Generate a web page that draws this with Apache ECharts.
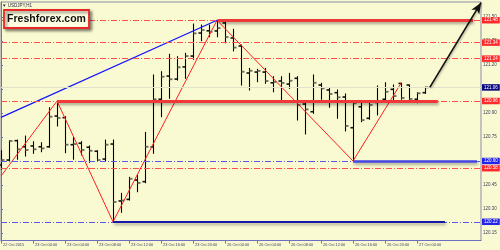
<!DOCTYPE html>
<html><head><meta charset="utf-8">
<script src="https://cdn.jsdelivr.net/npm/echarts@6/dist/echarts.min.js"></script>
<style>html,body{margin:0;padding:0;background:#fafad2}#c{width:500px;height:250px}</style>
</head><body><div id="c"></div>
<script>
// ---- data ----
const tickIdx = [0,4,8,12,16,20,24,28,32,36,40,44,48,52];
const tickLabels = ['22 Oct 2015','23 Oct 00:00','23 Oct 04:00','23 Oct 08:00','23 Oct 12:00','23 Oct 16:00','23 Oct 20:00',
  '26 Oct 00:00','26 Oct 04:00','26 Oct 08:00','26 Oct 12:00','26 Oct 16:00','26 Oct 20:00','27 Oct 00:00'];
const yTicks = [120.15,120.30,120.45,120.60,120.75,120.90,121.05,121.20,121.35,121.50];
const yTickLabels = ['120.15','120.30','120.45','120.60','120.75','120.90','121.05','121.20','121.35','121.50'];

const opens  = [120.575,120.606,120.727,120.689,120.694,120.689,120.689,120.881,120.871,120.702,120.711,120.686,120.661,120.612,
  120.706,120.350,120.360,120.481,120.471,120.688,120.986,121.131,121.112,121.188,121.256,121.400,121.414,121.413,
  121.463,121.369,121.319,121.150,121.156,121.156,121.089,121.100,121.081,121.117,120.956,120.908,121.075,121.044,
  121.027,121.000,120.808,120.939,120.867,120.966,120.986,121.048,121.085,121.075,120.986,121.027];
const highs  = [120.664,120.727,120.731,120.756,120.721,120.714,120.933,120.975,120.877,120.748,120.721,120.694,120.664,120.731,
  120.731,120.398,120.498,120.513,120.779,121.138,121.158,121.267,121.252,121.273,121.456,121.450,121.450,121.480,
  121.477,121.423,121.325,121.179,121.173,121.179,121.127,121.127,121.148,121.127,120.971,121.138,121.086,121.054,
  121.044,121.019,120.964,120.971,120.971,121.069,121.089,121.075,121.086,121.075,121.027,121.062];
const lows   = [120.548,120.596,120.611,120.631,120.648,120.658,120.686,120.819,120.652,120.611,120.638,120.592,120.602,120.600,
  120.220,120.279,120.356,120.408,120.464,120.648,120.877,120.992,121.106,121.117,121.236,121.352,121.377,121.377,
  121.339,121.288,121.075,121.044,121.096,121.086,121.033,120.981,121.054,120.856,120.769,120.898,120.986,120.936,
  120.867,120.788,120.600,120.846,120.861,120.888,120.981,120.981,120.986,120.981,120.964,121.023];
const closes = [120.606,120.725,120.673,120.669,120.673,120.679,120.877,120.869,120.702,120.706,120.669,120.664,120.606,120.702,
  120.344,120.353,120.489,120.463,120.689,120.986,121.127,121.111,121.186,121.256,121.398,121.419,121.408,121.431,
  121.375,121.309,121.158,121.164,121.163,121.100,121.094,121.088,121.102,120.950,120.923,121.089,121.054,121.019,
  120.998,120.819,120.961,120.856,120.950,120.972,121.033,121.006,120.994,120.988,121.023,121.060];

const zigzagIdx = [0,7,14,27,44,50];
const zigzagVal = [120.506,120.975,120.22,121.48,120.60,121.086];
const trendIdx = [0,27];
const trendVal = [120.873,121.48];
const arrowIdx = [53.6,60];
const arrowVal = [121.06,121.59];

const redLevels = [121.48,121.34,121.24,120.975,120.555];
const redLevelText = ['121.48','121.34','121.24','120.96','120.58'];
const blueLevels = [120.60,120.22];
const blueLevelText = ['120.60','120.22'];
const bidLevel = 121.06;
const bidText = '121.06';

const thickRedVal = [121.48,120.975];
const thickRedStart = [27.1,7];
const thickRedEnd = [59,54.6];
const thickBlueVal = [120.60];
const thickBlueStart = [44];
const thickBlueEnd = [59.5];
const thickNavyVal = [120.22];
const thickNavyStart = [14];
const thickNavyEnd = [55.5];

// ---- build ----
const bars = opens.map((o,i)=>[i,o,closes[i],lows[i],highs[i]]);
const X0 = 0, X1 = 60;
const lblBase = {show:true, position:'end', distance:1, color:'#fff', fontSize:4.5, fontFamily:'Liberation Sans',
  padding:[1,2,0,2], lineHeight:5.5};
function levelLines(vals, texts, bg){
  return vals.map((v,i)=>[{coord:[X0,v], label:Object.assign({}, lblBase, {backgroundColor:bg, formatter:texts[i]})},{coord:[X1,v]}]);
}
function segLines(vals, s, e){
  return vals.map((v,i)=>[{coord:[s[i],v]},{coord:[e[i],v]}]);
}
const shadow = {shadowBlur:3, shadowOffsetX:1, shadowOffsetY:2, shadowColor:'rgba(0,0,0,0.35)'};

const chart = echarts.init(document.getElementById('c'), null, {renderer:'canvas'});
chart.setOption({
  animation:false,
  backgroundColor:'#fafad2',
  grid:{left:1, right:19, top:2, bottom:9.5, show:true, borderColor:'#8c8ca8', borderWidth:1, backgroundColor:'#fafad2'},
  xAxis:{type:'value', min:X0, max:X1,
    axisLine:{show:true, onZero:false, lineStyle:{color:'#6e6ec0', width:1}},
    axisTick:{show:true, customValues:tickIdx, length:3, lineStyle:{color:'#6e6ec0'}},
    axisLabel:{customValues:tickIdx, formatter:v=>{const k=tickIdx.indexOf(v);return k<0?'':tickLabels[k];},
      align:'left', margin:2, padding:[0,0,0,2], fontSize:3.9, fontFamily:'Liberation Sans', color:'#3c3c5c'},
    splitLine:{show:false}},
  yAxis:{type:'value', position:'right', min:120.103, max:121.594, scale:true,
    axisLine:{show:true, lineStyle:{color:'#6e6ec0', width:1}},
    axisTick:{show:true, customValues:yTicks, length:2, lineStyle:{color:'#6e6ec0'}},
    axisLabel:{customValues:yTicks, formatter:v=>{const k=yTicks.findIndex(t=>Math.abs(t-v)<1e-6);return k<0?'':yTickLabels[k];},
      margin:2, fontSize:4.5, fontFamily:'Liberation Sans', color:'#3c3c5c'},
    splitLine:{show:false}},
  graphic:[
    {type:'text', left:2, top:3, z:100, style:{text:'▼ USDJPY,H1', fontSize:4.5, fontFamily:'Liberation Sans', fill:'#2a2a40'}},
    {type:'rect', z:100, shape:{x:4, y:10, width:85, height:18},
      style:{fill:'#fdfde2', stroke:'#e82828', lineWidth:1.8, shadowBlur:3, shadowOffsetX:2, shadowOffsetY:2, shadowColor:'rgba(0,0,0,0.45)'}},
    {type:'text', z:101, x:46.5, y:19.5, style:{text:'Freshforex.com', fontSize:10.5, fontWeight:'bold', fontFamily:'Liberation Sans',
      fill:'#111', align:'center', verticalAlign:'middle'}}
  ],
  series:[
    {type:'line', data:[], z:1, silent:true,
      markLine:{silent:true, symbol:['none','none'], animation:false,
        lineStyle:{color:'#ff5050', width:1, type:[6,2,1,2]},
        data:levelLines(redLevels, redLevelText, '#ff2a2a')}},
    {type:'line', data:[], z:1, silent:true,
      markLine:{silent:true, symbol:['none','none'], animation:false,
        lineStyle:{color:'#5a5aee', width:1, type:[6,2,1,2]},
        data:levelLines(blueLevels, blueLevelText, '#2424e8')}},
    {type:'line', data:[], z:1, silent:true,
      markLine:{silent:true, symbol:['none','none'], animation:false,
        lineStyle:{color:'#e2e2cc', width:1, type:'solid'},
        data:levelLines([bidLevel],[bidText], '#0a0a80')}},
    {type:'line', data:[], z:2, silent:true,
      markLine:{silent:true, symbol:['none','none'], animation:false, label:{show:false},
        lineStyle:Object.assign({color:'#f03838', width:2.8, type:'solid'}, shadow),
        data:segLines(thickRedVal, thickRedStart, thickRedEnd)}},
    {type:'line', data:[], z:2, silent:true,
      markLine:{silent:true, symbol:['none','none'], animation:false, label:{show:false},
        lineStyle:Object.assign({color:'#4444e4', width:2.6, type:'solid'}, shadow),
        data:segLines(thickBlueVal, thickBlueStart, thickBlueEnd)}},
    {type:'line', data:[], z:2, silent:true,
      markLine:{silent:true, symbol:['none','none'], animation:false, label:{show:false},
        lineStyle:Object.assign({color:'#1818a8', width:2.2, type:'solid'}, shadow),
        data:segLines(thickNavyVal, thickNavyStart, thickNavyEnd)}},
    {type:'custom', z:3, data:bars, encode:{x:0, y:[1,2,3,4]}, clip:false,
      renderItem:function(params, api){
        const x=api.value(0), o=api.value(1), c=api.value(2), l=api.value(3), h=api.value(4);
        const pH=api.coord([x,h]), pL=api.coord([x,l]), pO=api.coord([x,o]), pC=api.coord([x,c]);
        const xx=Math.round(pH[0])+0.5;
        return {type:'group', children:[
          {type:'line', shape:{x1:xx,y1:pH[1]-0.5,x2:xx,y2:pL[1]+0.5}, style:{stroke:'#000', lineWidth:1.1}},
          {type:'line', shape:{x1:xx-3,y1:pO[1],x2:xx,y2:pO[1]}, style:{stroke:'#111', lineWidth:1.6}},
          {type:'line', shape:{x1:xx,y1:pC[1],x2:xx+3,y2:pC[1]}, style:{stroke:'#6a6a62', lineWidth:1.8}}
        ]};
      }},
    {type:'line', z:4, data:zigzagIdx.map((x,i)=>[x,zigzagVal[i]]), showSymbol:false, symbol:'none',
      lineStyle:{color:'#ff1e1e', width:1}},
    {type:'line', z:4, data:trendIdx.map((x,i)=>[x,trendVal[i]]), showSymbol:false, symbol:'none',
      lineStyle:{color:'#1414ff', width:1.2}},
    {type:'line', data:[], z:5, silent:true,
      markLine:{silent:true, symbol:['none','arrow'], symbolSize:[7,11], animation:false, label:{show:false},
        lineStyle:{color:'#111', width:1.6, type:'solid', shadowBlur:2, shadowOffsetX:1, shadowOffsetY:1, shadowColor:'rgba(0,0,0,0.3)'},
        data:[[{coord:[arrowIdx[0],arrowVal[0]]},{coord:[arrowIdx[1],arrowVal[1]]}]]}}
  ]
});
</script></body></html>
